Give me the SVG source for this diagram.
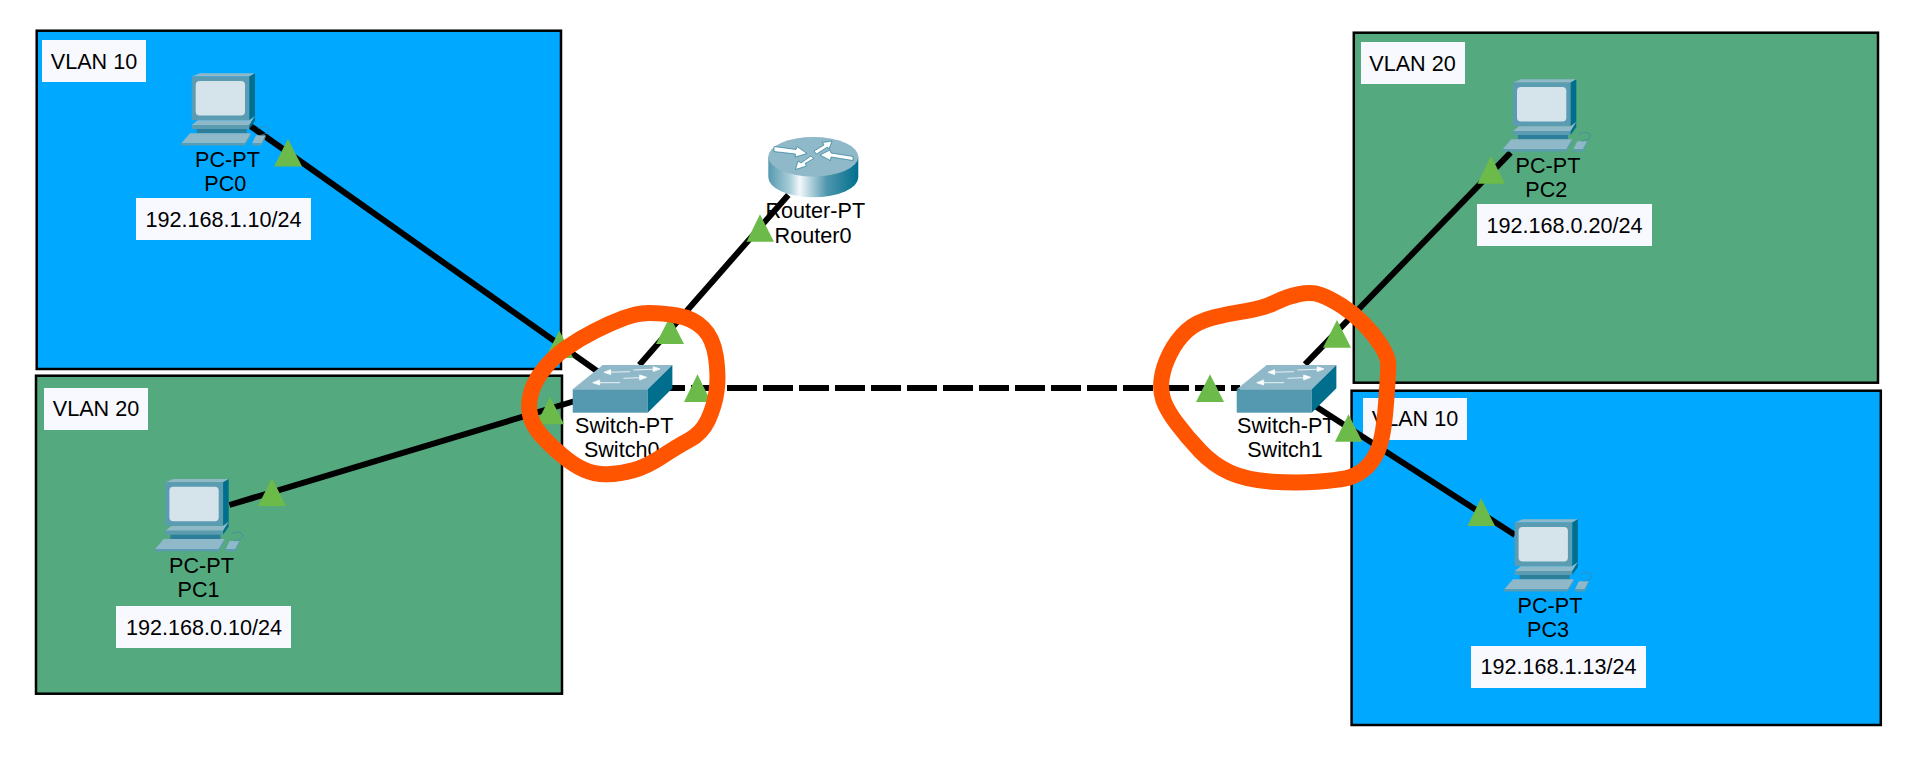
<svg xmlns="http://www.w3.org/2000/svg" width="1909" height="759" viewBox="0 0 1909 759">
<style>
.t{font-family:"Liberation Sans",Arial,sans-serif;font-size:21.6px;fill:#000;text-anchor:middle}
.vb{fill:#00a9ff;stroke:#000;stroke-width:2.5}
.vg{fill:#55a97f;stroke:#000;stroke-width:2.5}
.lb{fill:#f8f9ff}
.link{stroke:#000;stroke-width:6;fill:none}
.tri{fill:#6cbb4a}
.ring{fill:none;stroke:#ff5500;stroke-width:16;stroke-linejoin:round}
</style>
<defs>
<linearGradient id="rg" x1="0" x2="1" y1="0" y2="0">
<stop offset="0" stop-color="#5599b0"/><stop offset="0.24" stop-color="#a9cdd8"/><stop offset="0.35" stop-color="#f2f8fa"/><stop offset="0.65" stop-color="#4f96ad"/><stop offset="1" stop-color="#006f8e"/>
</linearGradient>
<g id="pc">
<polygon points="0,3.3 8.3,0 63.3,0 57.7,3.3" fill="#8fb8c8"/>
<rect x="0" y="3.3" width="57.7" height="43.4" fill="#5b9cb3"/>
<polygon points="57.7,3.3 63.3,0 63.3,42.7 57.7,46.7" fill="#006f8e"/>
<rect x="4" y="7.7" width="49.3" height="34.6" rx="4" fill="#d4e4ea"/>
<polygon points="0,51.7 6,47 57.7,47 63.3,42.7 57.7,51.7" fill="#8fb8c8"/>
<rect x="0" y="51.7" width="57.7" height="4" fill="#5b9cb3"/>
<polygon points="57.7,51.7 63.3,42.7 63.3,47.7 57.7,55.7" fill="#006f8e"/>
<rect x="5" y="55.7" width="50" height="4.5" fill="#2b7f9b"/>
<polygon points="-1.7,60 59.3,60 53.3,70 -10.3,70" fill="#8fb8c8"/>
<polygon points="-10.7,70 53.3,70 59.3,60 59.3,62.5 53.3,72.3 -10.7,72.3" fill="#5b9cb3"/>
<polygon points="64.3,62 74,62 70,70 60.3,70" fill="#8fb8c8"/>
<polygon points="60.3,70 70,70 74,62 74,64 70,72.3 60.3,72.3" fill="#5b9cb3"/>
<path d="M66,55 C72,51 79,54 77,58 C75,61 71,61 69,62" fill="none" stroke="#3e8aa5" stroke-width="0.8"/>
</g>
<g id="sw">
<polygon points="0,24.3 30,0 99.7,0 75,24.3" fill="#8fb8c8"/>
<rect x="0" y="24.3" width="75" height="23.4" fill="#5599b0"/>
<polygon points="75,24.3 99.7,0 99.7,23.3 75,47.7" fill="#006f8e"/>
<g stroke="#f4f8fa" stroke-width="0.9" fill="#fff">
<line x1="36" y1="7.2" x2="57.3" y2="6.7"/><polygon points="31.3,7.3 38,4.7 38,9.5"/>
<line x1="60.7" y1="5" x2="82" y2="4.2"/><polygon points="87.3,4 80.5,1.7 80.5,6.5"/>
<line x1="25" y1="17.7" x2="47.3" y2="17.7"/><polygon points="20,17.7 27,15 27,20"/>
<line x1="50.7" y1="13.3" x2="69" y2="12.6"/><polygon points="74,12.3 67,10 67,15"/>
</g>
</g>
</defs>

<g id="vlan-areas">
<g id="area-vlan10-left"><rect class="vb" x="36.7" y="30.7" width="524.3" height="338.3"/></g>
<g id="area-vlan20-left"><rect class="vg" x="36" y="375.7" width="526" height="318"/></g>
<g id="area-vlan20-right"><rect class="vg" x="1353.8" y="32.7" width="524.2" height="350"/></g>
<g id="area-vlan10-right"><rect class="vb" x="1351.6" y="390.7" width="529.2" height="334.3"/></g>
</g>

<g id="area-labels">
<g id="label-vlan10-left"><rect class="lb" x="42" y="40" width="104" height="42"/><text class="t" x="94" y="69">VLAN 10</text></g>
<g id="label-vlan20-left"><rect class="lb" x="44" y="388" width="104" height="42"/><text class="t" x="96" y="416">VLAN 20</text></g>
<g id="label-vlan20-right"><rect class="lb" x="1361" y="42" width="104" height="42"/><text class="t" x="1412.5" y="70.7">VLAN 20</text></g>
<g id="label-vlan10-right"><rect class="lb" x="1363" y="398" width="104" height="42"/><text class="t" x="1415" y="426">VLAN 10</text></g>
</g>

<g id="node-labels">
<g id="ip-pc0"><rect class="lb" x="136" y="198" width="175" height="42"/><text class="t" x="223.5" y="226.5">192.168.1.10/24</text></g>
<g id="ip-pc1"><rect class="lb" x="116" y="606" width="175" height="42"/><text class="t" x="204" y="634.5">192.168.0.10/24</text></g>
<g id="ip-pc2"><rect class="lb" x="1477" y="204" width="175" height="42"/><text class="t" x="1564.5" y="232.5">192.168.0.20/24</text></g>
<g id="ip-pc3"><rect class="lb" x="1471" y="646" width="175" height="42"/><text class="t" x="1558.5" y="674">192.168.1.13/24</text></g>
</g>

<g id="text-under-links">
<text class="t" x="815.3" y="217.7">Router-PT</text>
<text class="t" x="813" y="242.7">Router0</text>
</g>

<g id="connectors">
<line class="link" x1="250" y1="125.7" x2="598" y2="371.7"/>
<line class="link" x1="229.4" y1="505" x2="575" y2="401"/>
<line class="link" x1="788.3" y1="195" x2="639.3" y2="365"/>
<line class="link" x1="1510.6" y1="152.7" x2="1305" y2="364.3"/>
<line class="link" x1="1315" y1="406" x2="1515" y2="535"/>
<line class="link" x1="655" y1="388" x2="1240" y2="388" stroke-dasharray="30 6"/>
</g>

<g id="pc0"><use href="#pc" x="191.7" y="73.3"/><text class="t" x="227.5" y="167">PC-PT</text><text class="t" x="225.3" y="191">PC0</text></g>
<g id="pc1"><use href="#pc" x="165.4" y="479"/><text class="t" x="201.5" y="572.7">PC-PT</text><text class="t" x="198.5" y="597">PC1</text></g>
<g id="pc2"><use href="#pc" x="1513" y="79.3"/><text class="t" x="1548" y="173">PC-PT</text><text class="t" x="1546.3" y="197">PC2</text></g>
<g id="pc3"><use href="#pc" x="1514.6" y="519.3"/><text class="t" x="1550" y="612.5">PC-PT</text><text class="t" x="1548" y="637">PC3</text></g>

<g id="router0">
<path d="M768.3,156.7 V177.3 A45,20 0 0 0 858.3,177.3 V156.7 Z" fill="url(#rg)"/>
<ellipse cx="813.3" cy="156.7" rx="45" ry="19.7" fill="#8fb8c8"/>
<g fill="#fff" stroke="#0d6f8c" stroke-width="0.6">
<polygon points="774,146.5 796,149.5 797,146.5 807,153.5 795,157 795.5,154 774,151.5"/>
<polygon points="814,151 824,145 822.5,142.5 832,141 829,149 827.5,147 816.5,154"/>
<polygon points="853,160.5 831,157 830.5,160.5 820,155 830,150 831,153 853,156.5"/>
<polygon points="813.5,158.5 805,163.5 806.5,166 795.5,169.5 798,161 801,163 811,156"/>
</g>
</g>

<g id="switch0"><use href="#sw" x="572.7" y="365"/><text class="t" x="624.2" y="432.7">Switch-PT</text><text class="t" x="621.7" y="457">Switch0</text></g>
<g id="switch1"><use href="#sw" x="1236.7" y="365"/><text class="t" x="1286.3" y="432.7">Switch-PT</text><text class="t" x="1285" y="457">Switch1</text></g>

<g id="link-lights">
<polygon class="tri" points="288,138.7 274,166.5 302,166.5"/>
<polygon class="tri" points="559.3,330.5 545.3,358 573.3,358"/>
<polygon class="tri" points="272,478 258,506 286,506"/>
<polygon class="tri" points="550,396.7 536.5,424.3 564,424.3"/>
<polygon class="tri" points="760,214.3 746.5,241.8 774,241.8"/>
<polygon class="tri" points="670,316.5 656,344 684,344"/>
<polygon class="tri" points="697.5,374.3 684,402 711,402"/>
<polygon class="tri" points="1210,374.3 1196,402 1224,402"/>
<polygon class="tri" points="1337,320 1323,347.7 1351,347.7"/>
<polygon class="tri" points="1491,156 1477.5,183.7 1505,183.7"/>
<polygon class="tri" points="1348.5,414.3 1335,441.8 1362.3,441.8"/>
<polygon class="tri" points="1481,498.3 1467.4,526 1495,526"/>
</g>

<g id="highlights">
<path class="ring" d="M676.7,315.5 Q693.3,318.3 703.3,328.3 Q713.3,338.3 716,357.5 Q718.7,376.7 716.5,391.7 Q714.3,406.7 708,420 Q701.7,433.3 689.2,440 Q676.7,446.7 661.7,456.7 Q646.7,466.7 633.3,470.3 Q620,474 607.5,474.3 Q595,474.7 584.2,469.8 Q573.3,465 561.7,455 Q550,445 541.7,435.8 Q533.3,426.7 530.5,416.7 Q527.7,406.7 530.5,395 Q533.3,383.3 542.5,370.8 Q551.7,358.3 565.8,348.3 Q580,338.3 595,330.8 Q610,323.3 623.3,318.3 Q636.7,313.3 648.3,313 Q660,312.7 676.7,315.5 Z"/>
<path class="ring" d="M1320.8,295 Q1330,298.3 1341.7,305.8 Q1353.3,313.3 1363.3,323.3 Q1373.3,333.3 1380.8,345 Q1388.3,356.7 1388.3,365 Q1388.3,373.3 1385.9,405 Q1383.5,436.7 1378.1,449.8 Q1372.7,463 1363.6,469.8 Q1354.5,476.7 1345.6,478.3 Q1336.7,480 1316.7,481.7 Q1296.7,483.3 1271.7,481.7 Q1246.7,480 1230,472.5 Q1213.3,465 1200,450.8 Q1186.7,436.7 1176.7,423.3 Q1166.7,410 1163.3,400 Q1160,390 1161.7,378.3 Q1163.3,366.7 1170,353.3 Q1176.7,340 1186.7,330.8 Q1196.7,321.7 1213.3,317.5 Q1230,313.3 1246.7,310.8 Q1263.3,308.3 1275,302.5 Q1286.7,296.7 1299.2,294.2 Q1311.7,291.7 1320.8,295 Z"/>
</g>
</svg>
